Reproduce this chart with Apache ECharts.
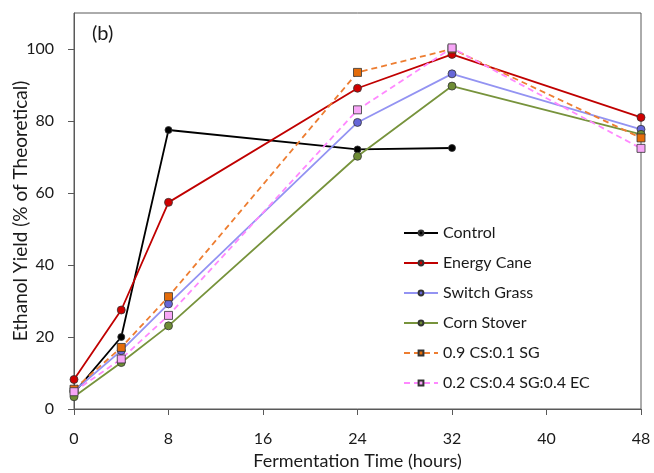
<!DOCTYPE html>
<html>
<head>
<meta charset="utf-8">
<script src="https://cdn.jsdelivr.net/npm/echarts@6/dist/echarts.min.js"></script>
<style>html,body{margin:0;padding:0;background:#fff;}#c{width:654px;height:473px;}</style>
</head>
<body>
<div id="c"></div>
<script>
// Data
var timesAll = [0, 4, 8, 24, 32, 48];
var timesControl = [0, 4, 8, 24, 32];
var control = [4.5, 20, 77.5, 72.1, 72.5];
var energyCane = [8.2, 27.5, 57.4, 89.1, 98.5, 81.0];
var switchGrass = [5.0, 16.2, 29.2, 79.6, 93.1, 77.7];
var cornStover = [3.4, 12.9, 23.1, 70.2, 89.7, 76.3];
var mix1 = [5.5, 17.1, 31.2, 93.5, 100.0, 75.3];
var mix2 = [4.8, 13.9, 26.0, 83.1, 100.3, 72.4];
var xTicks = [0, 8, 16, 24, 32, 40, 48];
var yTicks = [0, 20, 40, 60, 80, 100];
var seriesNames = ['Control', 'Energy Cane', 'Switch Grass', 'Corn Stover', '0.9 CS:0.1 SG', '0.2 CS:0.4 SG:0.4 EC'];

function pairs(t, v) { return v.map(function (y, i) { return [t[i], y]; }); }

var FONT = 'Lato, "Open Sans", sans-serif';
var chart = echarts.init(document.getElementById('c'), null, { renderer: 'canvas' });

function mk(name, t, v, lineColor, fill, symbol, dashed, size) {
  return {
    name: name, type: 'line', data: pairs(t, v),
    symbol: symbol, symbolSize: size,
    lineStyle: { color: lineColor, width: 1.8, type: dashed ? [6, 4] : 'solid' },
    itemStyle: { color: fill, borderColor: '#333', borderWidth: 0.8 },
    emphasis: { disabled: true },
    animation: false
  };
}

chart.setOption({
  animation: false,
  grid: { left: 74, right: 13, top: 13, bottom: 64, show: true, borderColor: '#595959', borderWidth: 1, containLabel: false, outerBoundsMode: 'none' },
  graphic: [{ type: 'text', left: 92, top: 24, style: { text: '(b)', font: '20px ' + FONT, fill: '#1a1a1a' } }],
  legend: {
    orient: 'vertical', left: 403, top: 224, padding: 0, itemGap: 12, itemWidth: 34, itemHeight: 6,
    data: seriesNames,
    textStyle: { fontFamily: FONT, fontSize: 16, color: '#1a1a1a', lineHeight: 18 }
  },
  xAxis: {
    type: 'value', min: 0, max: 48, interval: 8,
    name: 'Fermentation Time (hours)', nameLocation: 'middle', nameGap: 43, nameMoveOverlap: false,
    nameTextStyle: { fontFamily: FONT, fontSize: 18, color: '#1a1a1a' },
    axisLine: { onZero: false, lineStyle: { color: '#595959', width: 1 } },
    axisTick: { show: true, inside: false, length: 6, lineStyle: { color: '#595959' }, customValues: xTicks },
    axisLabel: { fontFamily: FONT, fontSize: 16, color: '#1a1a1a', margin: 22, customValues: xTicks },
    splitLine: { show: false }
  },
  yAxis: {
    type: 'value', min: 0, max: 110, interval: 20,
    name: 'Ethanol Yield (% of Theoretical)', nameLocation: 'middle', nameGap: 44, nameMoveOverlap: false,
    nameTextStyle: { fontFamily: FONT, fontSize: 19, color: '#1a1a1a' },
    axisLine: { show: true, onZero: false, lineStyle: { color: '#595959', width: 1 } },
    axisTick: { show: true, inside: false, length: 6, lineStyle: { color: '#595959' }, customValues: yTicks },
    axisLabel: { fontFamily: FONT, fontSize: 16, color: '#1a1a1a', margin: 20, customValues: yTicks },
    splitLine: { show: false }
  },
  series: [
    mk(seriesNames[0], timesControl, control, '#000000', '#000000', 'circle', false, 7),
    mk(seriesNames[1], timesAll, energyCane, '#C00000', '#D00000', 'circle', false, 8),
    mk(seriesNames[2], timesAll, switchGrass, '#9393F2', '#6666D9', 'circle', false, 8),
    mk(seriesNames[3], timesAll, cornStover, '#77933C', '#6E8C35', 'circle', false, 8),
    mk(seriesNames[4], timesAll, mix1, '#ED7D31', '#E46C0A', 'rect', true, 8),
    mk(seriesNames[5], timesAll, mix2, '#FF88FF', '#F7A6F7', 'rect', true, 8)
  ]
});
</script>
</body>
</html>
